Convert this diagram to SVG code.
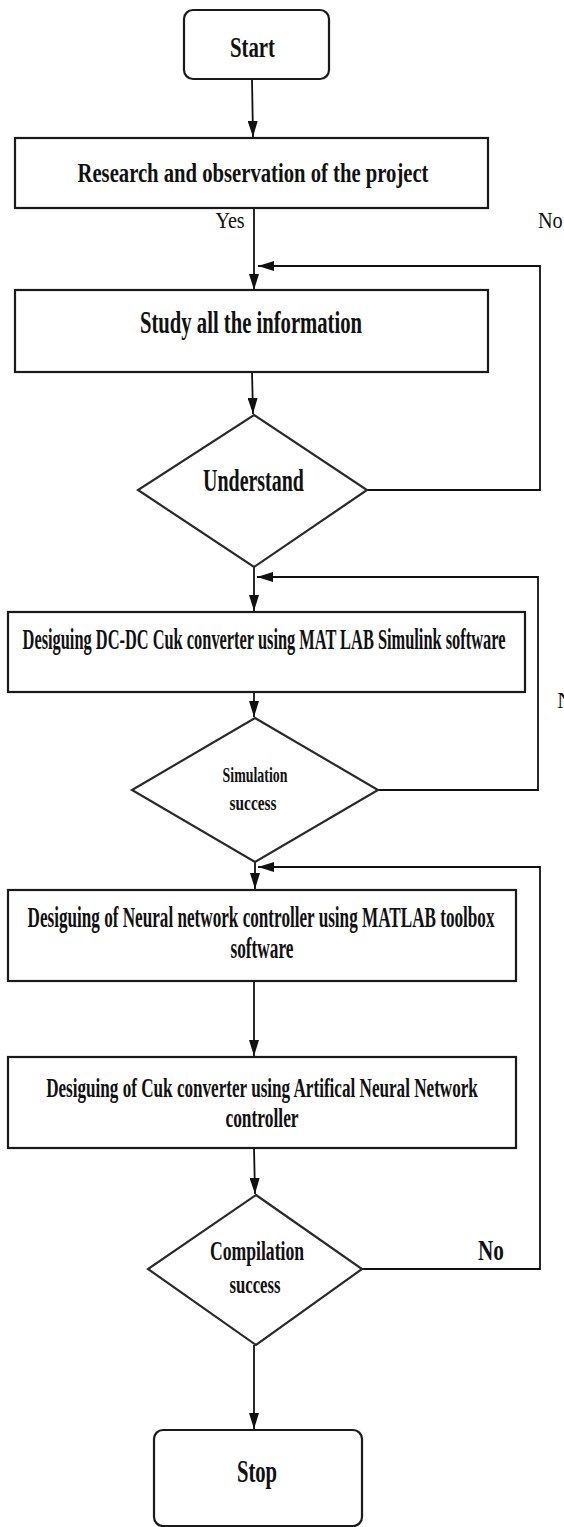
<svg xmlns="http://www.w3.org/2000/svg" width="564" height="1527" viewBox="0 0 564 1527">
<style>
.box{fill:#fff;stroke:#1a1a1a;stroke-width:2.2}
.dia{fill:#fff;stroke:#2a2a2a;stroke-width:2.2}
.t{font-family:"Liberation Serif","Times New Roman",serif;font-weight:bold;fill:#111;text-anchor:middle}
.n{font-family:"Liberation Serif","Times New Roman",serif;fill:#111}
.c{fill:none;stroke:#111;stroke-width:1.8}
</style>
<defs>
<marker id="ah" markerUnits="userSpaceOnUse" markerWidth="16" markerHeight="10" refX="16" refY="5" orient="auto">
<path d="M0,0 L16,5 L0,10 z" fill="#111"/>
</marker>
</defs>
<rect width="564" height="1527" fill="#fff"/>
<g id="connectors">
<path class="c" d="M252,79 L253,137" marker-end="url(#ah)"/>
<path class="c" d="M254,208 L254,290" marker-end="url(#ah)"/>
<path class="c" d="M252,372 L253,414" marker-end="url(#ah)"/>
<path class="c" d="M367,490 L540,490 L540,266 L258,266" marker-end="url(#ah)"/>
<path class="c" d="M254,567 L254,611" marker-end="url(#ah)"/>
<path class="c" d="M378,790 L538,790 L538,577 L257,577" marker-end="url(#ah)"/>
<path class="c" d="M254,692 L254,717" marker-end="url(#ah)"/>
<path class="c" d="M255,862 L255,889" marker-end="url(#ah)"/>
<path class="c" d="M362,1269 L540,1269 L540,867 L258,867" marker-end="url(#ah)"/>
<path class="c" d="M254,981 L254,1056" marker-end="url(#ah)"/>
<path class="c" d="M254,1148 L255,1194" marker-end="url(#ah)"/>
<path class="c" d="M254,1345 L254,1429" marker-end="url(#ah)"/>
<g transform="translate(230,228) scale(0.75,1)"><text class="n" x="0" y="0" font-size="24" text-anchor="middle" textLength="39" lengthAdjust="spacingAndGlyphs">Yes</text></g>
<g transform="translate(538,228) scale(0.75,1)"><text class="n" x="0" y="0" font-size="24" textLength="33" lengthAdjust="spacingAndGlyphs">No</text></g>
<g transform="translate(557,708) scale(0.75,1)"><text class="n" x="0" y="0" font-size="24" textLength="38" lengthAdjust="spacingAndGlyphs">No</text></g>
<g transform="translate(491,1260) scale(0.7,1)"><text class="t" x="0" y="0" font-size="30" textLength="37" lengthAdjust="spacingAndGlyphs">No</text></g>
</g>
<g id="start">
<rect class="box" x="184" y="10" width="145" height="69" rx="9"/>
<g transform="translate(252.5,57) scale(0.6,1)"><text class="t" x="0" y="0" font-size="30" textLength="75" lengthAdjust="spacingAndGlyphs">Start</text></g>
</g>
<g id="research">
<rect class="box" x="15" y="138" width="473" height="70"/>
<g transform="translate(253,182) scale(0.6,1)"><text class="t" x="0" y="0" font-size="28" textLength="585" lengthAdjust="spacingAndGlyphs">Research and observation of the project</text></g>
</g>
<g id="study">
<rect class="box" x="15" y="290" width="473" height="82"/>
<g transform="translate(251,333) scale(0.6,1)"><text class="t" x="0" y="0" font-size="31" textLength="370" lengthAdjust="spacingAndGlyphs">Study all the information</text></g>
</g>
<g id="understand">
<polygon class="dia" points="254,415 367,490 254,567 138,490"/>
<g transform="translate(253.5,491) scale(0.6,1)"><text class="t" x="0" y="0" font-size="31" textLength="168" lengthAdjust="spacingAndGlyphs">Understand</text></g>
</g>
<g id="design-dc">
<rect class="box" x="8" y="612" width="517" height="80"/>
<g transform="translate(264,649) scale(0.55,1)"><text class="t" x="0" y="0" font-size="30" textLength="878" lengthAdjust="spacingAndGlyphs">Desiguing DC-DC Cuk converter using MAT LAB Simulink software</text></g>
</g>
<g id="simulation">
<polygon class="dia" points="255,718 378,790 255,862 132,790"/>
<g transform="translate(255,782) scale(0.6,1)"><text class="t" x="0" y="0" font-size="22" textLength="108" lengthAdjust="spacingAndGlyphs">Simulation</text></g>
<g transform="translate(253,810) scale(0.6,1)"><text class="t" x="0" y="0" font-size="22" textLength="78" lengthAdjust="spacingAndGlyphs">success</text></g>
</g>
<g id="neural">
<rect class="box" x="8" y="890" width="508" height="91"/>
<g transform="translate(261,927) scale(0.55,1)"><text class="t" x="0" y="0" font-size="29" textLength="849" lengthAdjust="spacingAndGlyphs">Desiguing of Neural network controller using MATLAB toolbox</text></g>
<g transform="translate(262,958) scale(0.6,1)"><text class="t" x="0" y="0" font-size="29" textLength="105" lengthAdjust="spacingAndGlyphs">software</text></g>
</g>
<g id="cuk-ann">
<rect class="box" x="8" y="1057" width="508" height="91"/>
<g transform="translate(262,1097) scale(0.55,1)"><text class="t" x="0" y="0" font-size="28" textLength="785" lengthAdjust="spacingAndGlyphs">Desiguing of Cuk converter using Artifical Neural Network</text></g>
<g transform="translate(262,1127) scale(0.6,1)"><text class="t" x="0" y="0" font-size="28" textLength="122" lengthAdjust="spacingAndGlyphs">controller</text></g>
</g>
<g id="compilation">
<polygon class="dia" points="256,1195 362,1269 256,1345 148,1269"/>
<g transform="translate(257,1260) scale(0.6,1)"><text class="t" x="0" y="0" font-size="28" textLength="157" lengthAdjust="spacingAndGlyphs">Compilation</text></g>
<g transform="translate(255,1293) scale(0.6,1)"><text class="t" x="0" y="0" font-size="26" textLength="85" lengthAdjust="spacingAndGlyphs">success</text></g>
</g>
<g id="stop">
<rect class="box" x="154" y="1430" width="208" height="96" rx="9"/>
<g transform="translate(257,1482) scale(0.6,1)"><text class="t" x="0" y="0" font-size="32" textLength="67" lengthAdjust="spacingAndGlyphs">Stop</text></g>
</g>
</svg>
